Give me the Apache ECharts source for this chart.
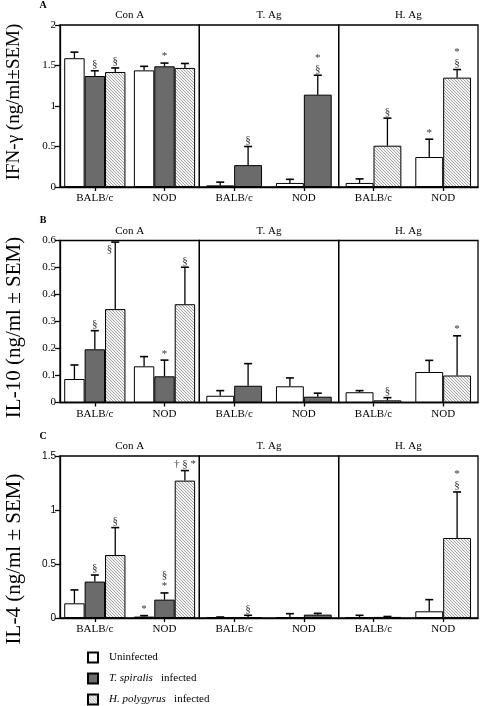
<!DOCTYPE html>
<html>
<head>
<meta charset="utf-8">
<script src="https://cdn.jsdelivr.net/npm/echarts@6/dist/echarts.min.js"></script>
<style>html,body{margin:0;padding:0;background:#fff}#c{width:480px;height:706px}</style>
</head>
<body>
<div id="c"></div>
<script>
const groups = ['BALB/c', 'NOD'];
const stimuli = ['Con A', 'T. Ag', 'H. Ag'];
const seriesNames = ['Uninfected', 'T. spiralis infected', 'H. polygyrus infected'];
const panelLetters = ['A', 'B', 'C'];
const yTitles = ['IFN-γ (ng/ml±SEM)', 'IL-10 (ng/ml ± SEM)', 'IL-4 (ng/ml ± SEM)'];
const yMax = [2, 0.6, 1.5];
const yInterval = [0.5, 0.1, 0.5];

// order of each array: [Con A BALB/c, Con A NOD, T. Ag BALB/c, T. Ag NOD, H. Ag BALB/c, H. Ag NOD]
const ifnUninfected = [1.59, 1.44, 0.02, 0.05, 0.05, 0.37];
const ifnUninfectedSem = [0.075, 0.05, 0.04, 0.045, 0.05, 0.22];
const ifnUninfectedMarks = ['', '', '', '', '', '*'];
const ifnTspiralis = [1.37, 1.49, 0.27, 1.14, null, null];
const ifnTspiralisSem = [0.065, 0.04, 0.23, 0.24, null, null];
const ifnTspiralisMarks = ['§', '*', '§', '*\n§', '', ''];
const ifnHpolygyrus = [1.42, 1.47, null, null, 0.51, 1.35];
const ifnHpolygyrusSem = [0.05, 0.055, null, null, 0.34, 0.1];
const ifnHpolygyrusMarks = ['§', '', '', '', '§', '*\n§'];

const il10Uninfected = [0.087, 0.134, 0.025, 0.06, 0.038, 0.113];
const il10UninfectedSem = [0.052, 0.036, 0.019, 0.031, 0.006, 0.043];
const il10UninfectedMarks = ['', '', '', '', '', ''];
const il10Tspiralis = [0.197, 0.097, 0.062, 0.0215, null, null];
const il10TspiralisSem = [0.069, 0.06, 0.082, 0.013, null, null];
const il10TspiralisMarks = ['§', '*', '', '', '', ''];
const il10Hpolygyrus = [0.346, 0.364, null, null, 0.008, 0.10];
const il10HpolygyrusSem = [0.248, 0.137, null, null, 0.01, 0.147];
const il10HpolygyrusMarks = ['§', '§', '', '', '§', '*'];

const il4Uninfected = [0.136, 0.013, 0.005, 0.009, 0.005, 0.062];
const il4UninfectedSem = [0.124, 0.009, 0.004, 0.031, 0.02, 0.108];
const il4UninfectedMarks = ['', '*', '', '', '', ''];
const il4Tspiralis = [0.337, 0.17, 0.009, 0.031, null, null];
const il4TspiralisSem = [0.061, 0.062, 0.016, 0.012, null, null];
const il4TspiralisMarks = ['§', '§\n*', '§', '', '', ''];
const il4Hpolygyrus = [0.583, 1.272, null, null, 0.01, 0.741];
const il4HpolygyrusSem = [0.254, 0.093, null, null, 0.004, 0.426];
const il4HpolygyrusMarks = ['§', '† § *', '', '', '', '*\n§'];

const panels = [
  { vals: [ifnUninfected, ifnTspiralis, ifnHpolygyrus], sems: [ifnUninfectedSem, ifnTspiralisSem, ifnHpolygyrusSem], marks: [ifnUninfectedMarks, ifnTspiralisMarks, ifnHpolygyrusMarks] },
  { vals: [il10Uninfected, il10Tspiralis, il10Hpolygyrus], sems: [il10UninfectedSem, il10TspiralisSem, il10HpolygyrusSem], marks: [il10UninfectedMarks, il10TspiralisMarks, il10HpolygyrusMarks] },
  { vals: [il4Uninfected, il4Tspiralis, il4Hpolygyrus], sems: [il4UninfectedSem, il4TspiralisSem, il4HpolygyrusSem], marks: [il4UninfectedMarks, il4TspiralisMarks, il4HpolygyrusMarks] }
];

const SERIF = '"Liberation Serif", "DejaVu Serif", serif';

// fine diagonal hatch pattern
const hatch = document.createElement('canvas');
hatch.width = 3; hatch.height = 3;
(function () {
  const ctx = hatch.getContext('2d');
  ctx.fillStyle = '#f4f4f4'; ctx.fillRect(0, 0, 3, 3);
  ctx.fillStyle = '#a6a6a6';
  for (let i = 0; i < 3; i++) ctx.fillRect(i, i, 1, 1);
})();
const fills = ['#ffffff', '#6b6b6b', { image: hatch, repeat: 'repeat' }];

const panelTop = [25, 240.5, 456];
const plotH = 162;
const plotLeft = 60, plotW = 418;
const subW = plotW / 3;

const grid = [], xAxis = [], yAxis = [], series = [], graphic = [];

panels.forEach((pd, p) => {
  graphic.push({ type: 'text', x: 43, y: panelTop[p] - 20, style: { text: panelLetters[p], font: 'bold 10px ' + SERIF, fill: '#000', align: 'center', verticalAlign: 'middle' } });
  graphic.push({ type: 'text', x: 14, y: panelTop[p] + plotH / 2 + [ -4, 6, 22 ][p], rotation: Math.PI / 2,
    style: { text: yTitles[p], font: (p === 0 ? 19 : 21) + 'px ' + SERIF, fill: '#000', align: 'center', verticalAlign: 'middle' } });
  stimuli.forEach((st, s) => {
    const g = p * 3 + s;
    const left = plotLeft + s * subW;
    grid.push({ left: left, top: panelTop[p], width: subW, height: plotH, show: true, borderColor: '#000', borderWidth: 1.3, backgroundColor: 'transparent' });
    graphic.push({ type: 'text', x: left + subW / 2, y: panelTop[p] - 9.5, style: { text: st, font: '11px ' + SERIF, fill: '#000', align: 'center', verticalAlign: 'middle' } });
    xAxis.push({ type: 'category', gridIndex: g, data: groups,
      axisLine: { show: true, lineStyle: { color: '#000', width: 1.3 } },
      axisTick: { show: true, alignWithLabel: true, length: 4, lineStyle: { color: '#000', width: 1.3 } },
      axisLabel: { fontFamily: SERIF, fontSize: 11, color: '#000', margin: 6 },
      splitLine: { show: false } });
    yAxis.push({ type: 'value', gridIndex: g, min: 0, max: yMax[p], interval: yInterval[p],
      axisLine: { show: s === 0, lineStyle: { color: '#000', width: 1.3 } },
      axisTick: { show: s === 0, length: 5, lineStyle: { color: '#000', width: 1.3 } },
      axisLabel: { show: s === 0, fontFamily: p === 2 ? '"Liberation Sans", Arial, sans-serif' : SERIF, fontSize: p === 2 ? 10 : 11, color: '#000', margin: 4,
        formatter: v => v === 0 ? '0' : (p === 1 ? v.toFixed(1) : String(+v.toFixed(2))) },
      splitLine: { show: false } });

    const present = [0, 1, 2].filter(k => pd.vals[k][s * 2] != null);
    const n = present.length;
    const frac = n === 3 ? 0.293 : 0.4;
    present.forEach((k, idx) => {
      const vals = [pd.vals[k][s * 2], pd.vals[k][s * 2 + 1]];
      const sems = [pd.sems[k][s * 2], pd.sems[k][s * 2 + 1]];
      const marks = [pd.marks[k][s * 2], pd.marks[k][s * 2 + 1]];
      series.push({ type: 'bar', name: seriesNames[k], xAxisIndex: g, yAxisIndex: g, data: vals,
        barWidth: (frac * 100) + '%', barGap: '0%', silent: true,
        itemStyle: { color: fills[k], borderColor: '#000', borderWidth: 1 } });
      series.push({ type: 'custom', xAxisIndex: g, yAxisIndex: g, silent: true, z: 5,
        data: vals.map((v, i) => [i, v, sems[i]]),
        renderItem: function (params, api) {
          const cat = api.value(0), v = api.value(1), e = api.value(2);
          const p0 = api.coord([cat, v]);
          const p1 = api.coord([cat, v + e]);
          const catW = api.size([1, 0])[0];
          const bw = catW * frac;
          const x = p0[0] + (idx - (n - 1) / 2) * bw;
          const children = [
            { type: 'line', shape: { x1: x, y1: p0[1], x2: x, y2: p1[1] }, style: { stroke: '#000', lineWidth: 1.3 } },
            { type: 'line', shape: { x1: x - 4, y1: p1[1], x2: x + 4, y2: p1[1] }, style: { stroke: '#000', lineWidth: 1.6 } }
          ];
          const mk = marks[params.dataIndex];
          if (mk) {
            const lines = mk.split('\n').length;
            const top = params.coordSys.y;
            if (p1[1] - 2 - lines * 11 < top) {
              children.push({ type: 'text', x: x - 3, y: p1[1] + 1, style: { text: mk, font: '11px ' + SERIF, fill: '#333', align: 'right', verticalAlign: 'top', lineHeight: 11 } });
            } else {
              children.push({ type: 'text', x: x, y: p1[1] - 1, style: { text: mk, font: '11px ' + SERIF, fill: '#333', align: 'center', verticalAlign: 'bottom', lineHeight: 11 } });
            }
          }
          return { type: 'group', children: children };
        } });
    });
  });
});

const legendTops = [651.5, 672.5, 693.5];
const legend = seriesNames.map((nm, k) => ({
  orient: 'vertical', left: 87, top: legendTops[k], itemWidth: 10, itemHeight: 10,
  icon: 'rect', selectedMode: false, data: [nm], padding: 0,
  formatter: name => name === 'Uninfected' ? name : '{i|' + name.replace(' infected', '') + '}   infected',
  textStyle: { fontFamily: SERIF, fontSize: 11, color: '#000', padding: [0, 0, 0, 6],
    rich: { i: { fontStyle: 'italic', fontFamily: SERIF, fontSize: 11, color: '#000' } } }
}));

const chart = echarts.init(document.getElementById('c'), null, { renderer: 'canvas' });
chart.setOption({
  animation: false,
  backgroundColor: '#fff',
  grid, xAxis, yAxis, series, graphic, legend
});
</script>
</body>
</html>
